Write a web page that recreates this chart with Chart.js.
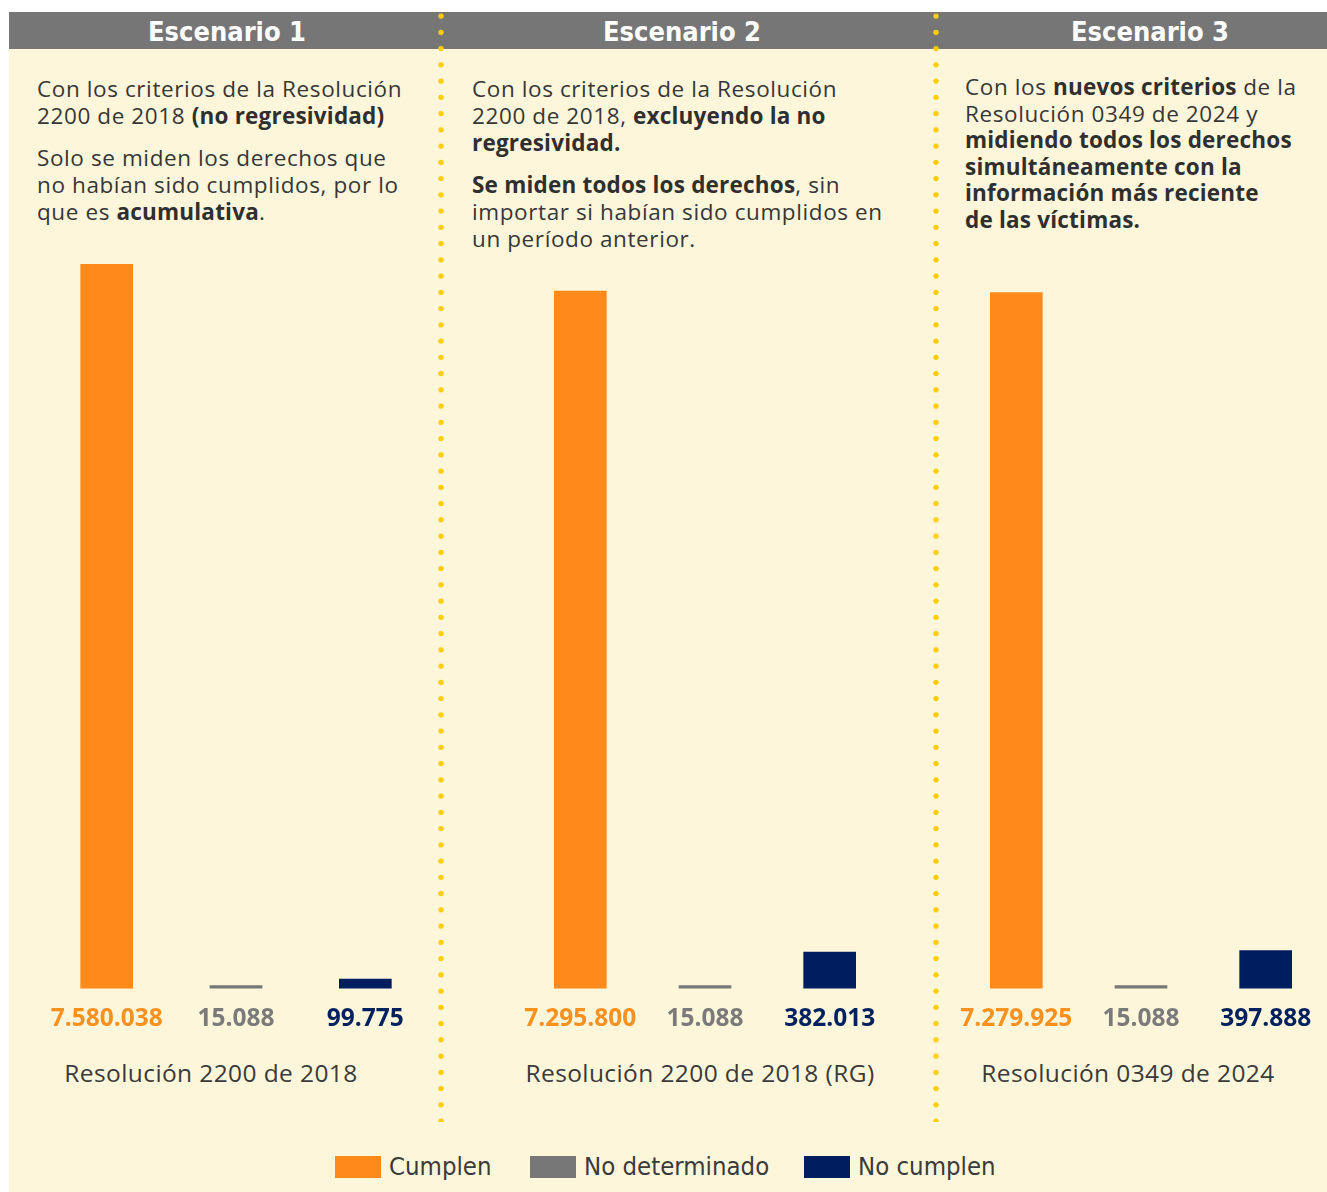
<!DOCTYPE html>
<html>
<head>
<meta charset="utf-8">
<script src="https://cdn.jsdelivr.net/npm/chart.js@4"></script>
<style>
  html, body { margin: 0; padding: 0; background: #ffffff; overflow: hidden; }
  #page { position: relative; width: 1327px; height: 1192px; overflow: hidden; }
  #bg { position: absolute; left: 9px; top: 12px; width: 1318px; height: 1180px; background: #FEF6DB; }
  #band { position: absolute; left: 9px; top: 12px; width: 1318px; height: 37px; background: #767676; }
  .head { position: absolute; top: 12px; height: 37px; line-height: 40px; width: 300px; text-align: center;
          color: #ffffff; font-family: "DejaVu Sans Condensed", sans-serif; font-weight: bold; font-size: 27px; }
  .dots { position: absolute; top: 8px; width: 8px; height: 1114px;
          background: radial-gradient(circle, #FFCD00 2.4px, rgba(255,205,0,0) 3px) repeat-y;
          background-size: 8px 16.25px; }
  .txt { position: absolute; font-family: "Open Sans", sans-serif; font-size: 22.5px; line-height: 27px; color: #363636; letter-spacing: 0.6px; }
  .txt p { margin: 0 0 15px 0; }
  .txt b { font-weight: 700; color: #2f2f2f; letter-spacing: 0.2px; }
  canvas { position: absolute; }
  .res { position: absolute; top: 1056px; width: 400px; text-align: center; font-family: "Open Sans", sans-serif;
         font-size: 24.5px; color: #3a3a3a; letter-spacing: 0.4px; }
  #legend { position: absolute; top: 1151px; left: 0; width: 1327px; height: 32px; font-family: "DejaVu Sans Condensed", sans-serif;
            font-size: 25.5px; color: #3a3a3a; }
  .lg { position: absolute; top: 0; height: 32px; line-height: 30px; white-space: nowrap; }
  .lg i { position: absolute; left: 0; top: 5px; width: 46px; height: 22px; }
  .lg span { position: absolute; left: 54px; top: 0; }
</style>
</head>
<body>
<div id="page">
  <div id="bg"></div>
  <div id="band"></div>
  <div class="head" style="left:77px">Escenario 1</div>
  <div class="head" style="left:532px">Escenario 2</div>
  <div class="head" style="left:1000px">Escenario 3</div>
  <div class="dots" style="left:437px"></div>
  <div class="dots" style="left:932px"></div>

  <div class="txt" style="left:37px; top:75px;">
    <p>Con los criterios de la Resolución<br>2200 de 2018 <b>(no regresividad)</b></p>
    <p>Solo se miden los derechos que<br>no habían sido cumplidos, por lo<br>que es <b>acumulativa</b>.</p>
  </div>
  <div class="txt" style="left:472px; top:75px;">
    <p>Con los criterios de la Resolución<br>2200 de 2018, <b>excluyendo la no<br>regresividad.</b></p>
    <p><b>Se miden todos los derechos</b>, sin<br>importar si habían sido cumplidos en<br>un período anterior.</p>
  </div>
  <div class="txt" style="left:965px; top:74px; line-height:26.6px;">
    <p>Con los <b>nuevos criterios</b> de la<br>Resolución 0349 de 2024 y<br><b>midiendo todos los derechos<br>simultáneamente con la<br>información más reciente<br>de las víctimas.</b></p>
  </div>

  <canvas id="c1" width="388" height="770" style="left:42px; top:264px;"></canvas>
  <canvas id="c2" width="374" height="770" style="left:518px; top:264px;"></canvas>
  <canvas id="c3" width="374" height="770" style="left:954px; top:264px;"></canvas>

  <div class="res" style="left:11px">Resolución 2200 de 2018</div>
  <div class="res" style="left:500px">Resolución 2200 de 2018 (RG)</div>
  <div class="res" style="left:928px">Resolución 0349 de 2024</div>

  <div id="legend"></div>
</div>
<script>
// data
const categories = ["Cumplen", "No determinado", "No cumplen"];
const resolutions = ["Resolución 2200 de 2018", "Resolución 2200 de 2018 (RG)", "Resolución 0349 de 2024"];
const cumplen = [7580038, 7295800, 7279925];
const noDeterminado = [15088, 15088, 15088];
const noCumplen = [99775, 382013, 397888];

const barColors = ["#FF8A1C", "#777777", "#001D5F"];
const labelColors = ["#F8911F", "#7A7A7A", "#00205E"];
const legendLeft = [335, 530, 804];

const yMax = Math.max(...cumplen, ...noDeterminado, ...noCumplen);

function fmt(n) {
    return String(n).replace(/\B(?=(\d{3})+(?!\d))/g, ".");
}

const charts = [];
["c1", "c2", "c3"].forEach(function (id, k) {
    var values = [cumplen[k], noDeterminado[k], noCumplen[k]];
    var ctx = document.getElementById(id).getContext("2d");
    charts.push(new Chart(ctx, {
        type: "bar",
        data: {
            labels: categories,
            datasets: [{
                label: resolutions[k],
                data: values,
                backgroundColor: barColors,
                borderWidth: 0,
                barThickness: 52,
                minBarLength: 3
            }]
        },
        options: {
            responsive: false,
            animation: false,
            layout: { padding: 0 },
            plugins: {
                legend: { display: false },
                tooltip: { enabled: false }
            },
            scales: {
                x: {
                    // tick marks are hidden (grid off) but their length keeps the labels away from the bars
                    grid: { display: false, drawTicks: true, tickLength: 16 },
                    border: { display: false },
                    ticks: {
                        padding: 0,
                        autoSkip: false,
                        maxRotation: 0,
                        color: function (c) { return labelColors[c.index]; },
                        font: { family: "Open Sans", size: 24.5, weight: "bold" },
                        callback: function (v, i) { return fmt(values[i]); }
                    }
                },
                y: { display: false, min: 0, max: yMax }
            }
        }
    }));
});

// legend
var lg = document.getElementById("legend");
categories.forEach(function (name, i) {
    var d = document.createElement("div");
    d.className = "lg";
    d.style.left = legendLeft[i] + "px";
    d.innerHTML = '<i style="background:' + barColors[i] + '"></i><span>' + name + '</span>';
    lg.appendChild(d);
});
</script>
</body>
</html>
